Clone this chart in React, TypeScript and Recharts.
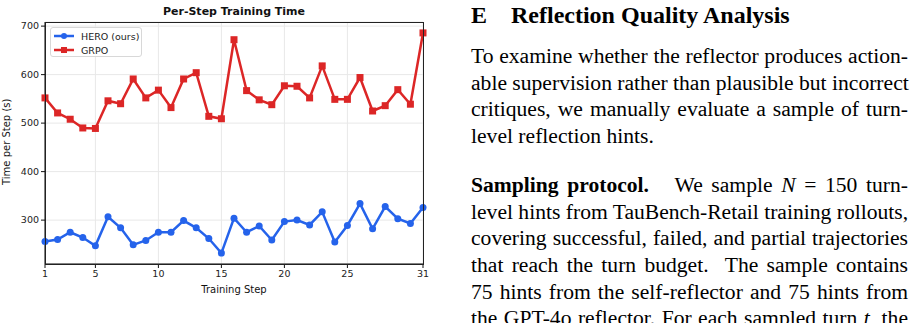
import React from "react";
import { LineChart, Line, XAxis, YAxis, CartesianGrid } from "recharts";

// per-step wall-clock time (seconds), steps 1..31
const STEPS = [1, 2, 3, 4, 5, 6, 7, 8, 9, 10, 11, 12, 13, 14, 15, 16, 17, 18, 19, 20, 21, 22, 23, 24, 25, 26, 27, 28, 29, 30, 31];
const HERO = [256, 260, 275, 264, 247, 307, 284, 249, 258, 275, 275, 299, 284, 262, 232, 304, 275, 288, 259, 297, 300, 290, 317, 255, 289, 334, 282, 328, 303, 293, 326];
const GRPO = [552, 521, 508, 490, 489, 546, 540, 591, 552, 568, 532, 591, 604, 514, 509, 672, 567, 548, 538, 577, 576, 552, 618, 549, 549, 594, 525, 536, 569, 539, 686];
const X_TICKS = [1, 5, 10, 15, 20, 25, 31];
const Y_TICKS = [300, 400, 500, 600, 700];

const BLUE = "#2563eb";
const RED = "#dc2626";
const SANS = "'DejaVu Sans', sans-serif";
const SERIF = "'Liberation Serif', 'Times New Roman', serif";

const data = STEPS.map((s, i) => ({ step: s, hero: HERO[i], grpo: GRPO[i] }));

const SquareDot = (props: any) => {
  const { cx, cy } = props;
  if (cx == null || cy == null) return null;
  return <rect x={cx - 3.5} y={cy - 3.5} width={7} height={7} fill={RED} />;
};

const CircleDot = (props: any) => {
  const { cx, cy } = props;
  if (cx == null || cy == null) return null;
  return <circle cx={cx} cy={cy} r={3.5} fill={BLUE} />;
};

const LEGEND = [
  { name: "HERO (ours)", color: BLUE, square: false },
  { name: "GRPO", color: RED, square: true },
];

const LegendBox = () => (
  <div
    style={{
      position: "absolute",
      left: 50,
      top: 27,
      width: 92,
      height: 30,
      boxSizing: "border-box",
      border: "1px solid #d8d8d8",
      borderRadius: 3,
      background: "rgba(255,255,255,0.85)",
      padding: "1px 0 0 2px",
      fontFamily: SANS,
      fontSize: 9.5,
      color: "#222",
    }}
  >
    {LEGEND.map((e) => (
      <div key={e.name} style={{ display: "flex", alignItems: "center", height: 14 }}>
        <svg width={22} height={10} style={{ marginRight: 6 }}>
          <line x1={1} y1={5} x2={21} y2={5} stroke={e.color} strokeWidth={2.5} />
          {e.square ? (
            <rect x={8} y={2} width={6} height={6} fill={e.color} />
          ) : (
            <circle cx={11} cy={5} r={3} fill={e.color} />
          )}
        </svg>
        <span>{e.name}</span>
      </div>
    ))}
  </div>
);

const lineStyle: React.CSSProperties = {
  height: 26.7,
  lineHeight: "26.7px",
  whiteSpace: "nowrap",
  textAlign: "justify",
  textAlignLast: "justify",
};

function TextLine({ children, last = false }: { children: React.ReactNode; last?: boolean }) {
  return (
    <div style={last ? { ...lineStyle, textAlignLast: "left" } : lineStyle}>{children}</div>
  );
}

export default function App() {
  return (
    <div
      style={{
        position: "absolute",
        left: 0,
        top: 0,
        width: 916,
        height: 323,
        background: "#fff",
        overflow: "hidden",
      }}
    >
      {/* chart */}
      <div
        style={{
          position: "absolute",
          left: 0,
          top: 5,
          width: 468,
          textAlign: "center",
          fontFamily: SANS,
          fontWeight: "bold",
          fontSize: 11,
          lineHeight: "14px",
          color: "#111",
        }}
      >
        Per-Step Training Time
      </div>
      <div style={{ position: "absolute", left: 0, top: 0 }}>
        <LineChart width={440} height={300} data={data} margin={{ top: 22, right: 17, bottom: 6, left: 10 }}>
          <CartesianGrid stroke="#e8e8e8" strokeWidth={1} />
          <XAxis
            dataKey="step"
            type="number"
            domain={[1, 31]}
            ticks={X_TICKS}
            height={30}
            tick={{ fontSize: 9.5, fill: "#222", fontFamily: SANS }}
            tickSize={4}
            stroke="#111"
            label={{ value: "Training Step", position: "insideBottom", offset: 1, fontSize: 10, fill: "#111", fontFamily: SANS }}
          />
          <YAxis
            type="number"
            domain={[209.5, 708.5]}
            allowDataOverflow
            ticks={Y_TICKS}
            width={35}
            tick={{ fontSize: 9.5, fill: "#222", fontFamily: SANS }}
            tickSize={4}
            stroke="#111"
            label={{ value: "Time per Step (s)", angle: -90, position: "insideLeft", offset: -4, dy: 42, fontSize: 10, fill: "#111", fontFamily: SANS }}
          />
          <Line
            dataKey="hero"
            name="HERO (ours)"
            stroke={BLUE}
            strokeWidth={2.5}
            dot={<CircleDot />}
            isAnimationActive={false}
          />
          <Line
            dataKey="grpo"
            name="GRPO"
            stroke={RED}
            strokeWidth={2.5}
            dot={<SquareDot />}
            isAnimationActive={false}
          />
        </LineChart>
      </div>
      {/* spines */}
      <div
        style={{
          position: "absolute",
          left: 45,
          top: 22,
          width: 379,
          height: 243,
          border: "1px solid #222",
          boxSizing: "border-box",
          pointerEvents: "none",
        }}
      />
      <LegendBox />

      {/* text column */}
      <div
        style={{
          position: "absolute",
          left: 471,
          top: 3,
          fontFamily: SERIF,
          fontWeight: "bold",
          fontSize: 24,
          lineHeight: "24px",
          color: "#000",
          whiteSpace: "nowrap",
        }}
      >
        <span>E</span>
        <span style={{ position: "absolute", left: 40 }}>Reflection Quality Analysis</span>
      </div>

      <div
        style={{
          position: "absolute",
          left: 471,
          top: 43,
          width: 437,
          fontFamily: SERIF,
          fontSize: 21.6,
          color: "#000",
        }}
      >
        <TextLine>To examine whether the reflector produces action-</TextLine>
        <TextLine>able supervision rather than plausible but incorrect</TextLine>
        <TextLine>critiques, we manually evaluate a sample of turn-</TextLine>
        <TextLine last>level reflection hints.</TextLine>
      </div>

      <div
        style={{
          position: "absolute",
          left: 471,
          top: 172,
          width: 437,
          fontFamily: SERIF,
          fontSize: 21.6,
          color: "#000",
        }}
      >
        <TextLine>
          <b>Sampling protocol.</b>&nbsp;&nbsp; We sample <i>N</i>&nbsp;=&nbsp;150 turn-
        </TextLine>
        <TextLine>level hints from TauBench-Retail training rollouts,</TextLine>
        <TextLine>covering successful, failed, and partial trajectories</TextLine>
        <TextLine>that reach the turn budget.&nbsp; The sample contains</TextLine>
        <TextLine>75 hints from the self-reflector and 75 hints from</TextLine>
        <TextLine>
          the GPT-4o reflector. For each sampled turn <i>t</i>, the
        </TextLine>
      </div>
    </div>
  );
}
